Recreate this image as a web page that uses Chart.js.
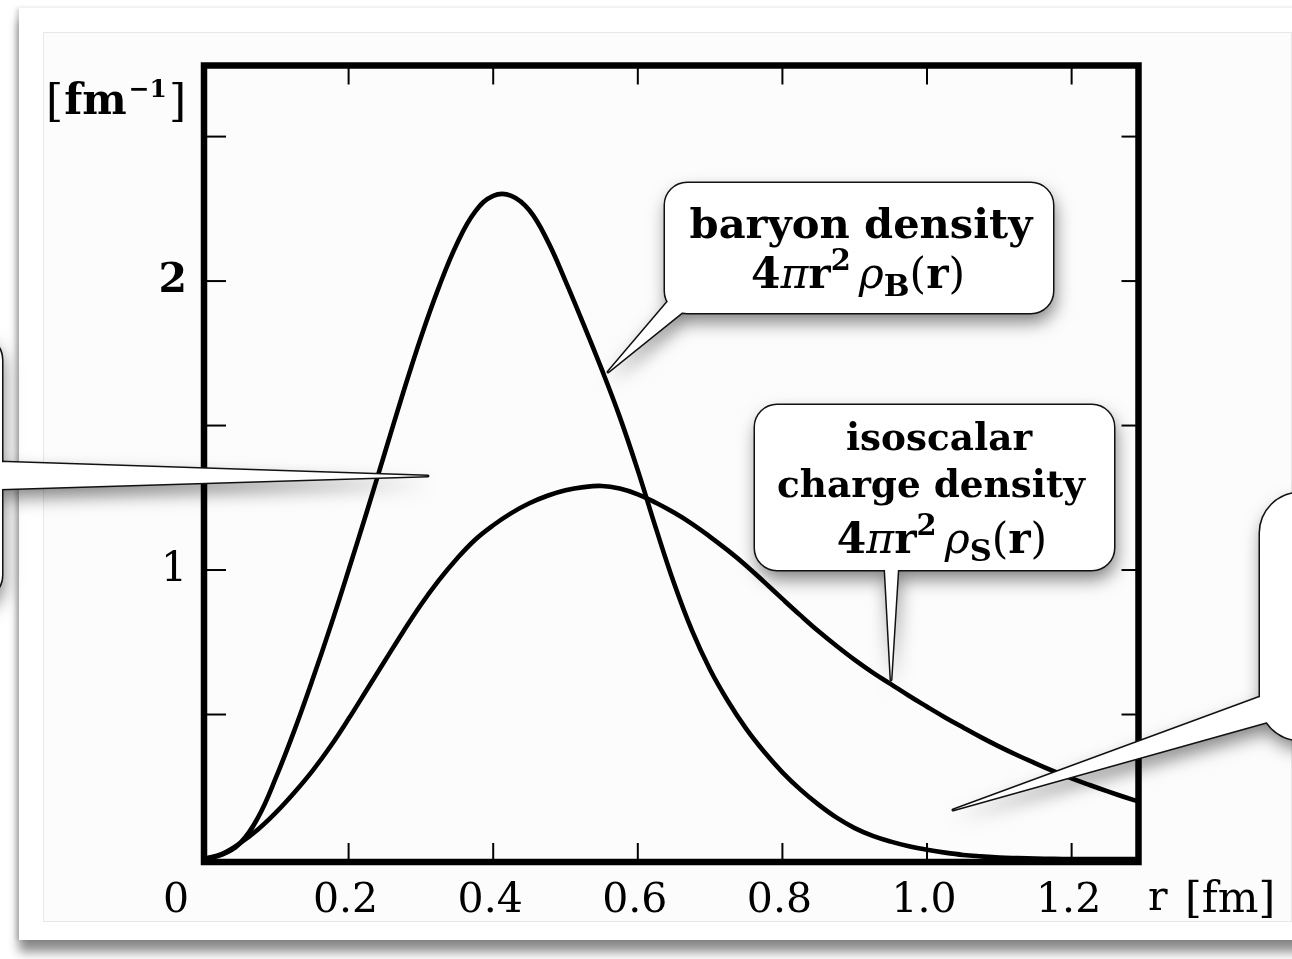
<!DOCTYPE html>
<html><head><meta charset="utf-8">
<script src="https://cdn.jsdelivr.net/npm/chart.js@4.4.0/dist/chart.umd.min.js"></script>
<style>
html,body{margin:0;padding:0;background:#fff;width:1292px;height:959px;overflow:hidden}
#card{position:absolute;left:19px;top:8px;width:1330px;height:932px;background:#fff;box-shadow:0 12px 10px rgba(0,0,0,0.45),-3px 0 4px rgba(0,0,0,0.15)}
#panel{position:absolute;left:43px;top:32px;width:1247px;height:888px;background:#fcfcfc;border:1px solid #e8e8e8}
canvas{position:absolute;left:0;top:0}
</style></head><body>
<div id="card"></div><div id="panel"></div>
<canvas id="c" width="1292" height="959"></canvas>
<script>
const rValues = [0,0.025,0.05,0.075,0.1,0.125,0.15,0.175,0.2,0.225,0.25,0.275,0.3,0.325,0.35,0.375,0.4,0.425,0.45,0.475,0.5,0.525,0.55,0.575,0.6,0.625,0.65,0.675,0.7,0.725,0.75,0.775,0.8,0.825,0.85,0.875,0.9,0.925,0.95,0.975,1.0,1.025,1.05,1.075,1.1,1.125,1.15,1.175,1.2,1.225,1.25,1.275,1.3];
const baryonDensity = [0,0.015,0.055,0.145,0.285,0.445,0.62,0.805,1.0,1.2,1.405,1.61,1.805,1.98,2.13,2.24,2.295,2.295,2.245,2.14,2.0,1.85,1.695,1.53,1.345,1.145,0.955,0.79,0.655,0.545,0.45,0.37,0.30,0.24,0.188,0.143,0.107,0.08,0.06,0.044,0.032,0.022,0.014,0.009,0.005,0.003,0.0015,0.0005,0,0,0,0,0];
const isoscalarDensity = [0,0.018,0.055,0.103,0.162,0.23,0.305,0.39,0.485,0.585,0.685,0.785,0.88,0.965,1.04,1.105,1.155,1.197,1.231,1.257,1.276,1.287,1.291,1.282,1.262,1.233,1.199,1.16,1.115,1.067,1.015,0.958,0.90,0.843,0.788,0.737,0.689,0.645,0.605,0.565,0.527,0.49,0.455,0.421,0.389,0.359,0.331,0.304,0.279,0.256,0.234,0.213,0.193];
const xTickValues = [0.2,0.4,0.6,0.8,1.0,1.2];
const xTickLabels = ['0.2','0.4','0.6','0.8','1.0','1.2'];
const yTickValues = [0.5,1,1.5,2,2.5];
const yLabelValues = [1,2];
const yTickLabels = ['1','2'];
const originLabel = '0';
const yUnitParts = ['[','fm','\u22121',']'];
const xUnitParts = ['r','[fm]'];
const baryonLabel = 'baryon density';
const isoLabel1 = 'isoscalar';
const isoLabel2 = 'charge density';

const FF = '"DejaVu Serif", serif';
function fnt(size, weight, style){ return (style||'normal')+' '+(weight||'normal')+' '+size+'px '+FF; }
function fitSize(ctx, text, weight, style, target){ ctx.font = fnt(100, weight, style); return 100*target/ctx.measureText(text).width; }

function formulaParts(F, sub){
  return [
    {t:'4', f:fnt(F,'bold'), dy:0},
    {t:'\u03c0', f:fnt(F,'normal','italic'), dy:0},
    {t:'r', f:fnt(F,'bold'), dy:0},
    {t:'2', f:fnt(F*0.68,'bold'), dy:-F*0.42},
    {t:' ', f:fnt(F*0.6,'normal'), dy:0},
    {t:'\u03c1', f:fnt(F,'normal','italic'), dy:0},
    {t:sub, f:fnt(F*0.72,'bold'), dy:F*0.2},
    {t:'(', f:fnt(F,'normal'), dy:0},
    {t:'r', f:fnt(F,'bold'), dy:0},
    {t:')', f:fnt(F,'normal'), dy:0}
  ];
}
function drawParts(ctx, parts, cx, base){
  let tot=0; parts.forEach(p=>{ctx.font=p.f; p.w=ctx.measureText(p.t).width; tot+=p.w;});
  let x = cx - tot/2;
  ctx.textAlign='left'; ctx.textBaseline='alphabetic';
  parts.forEach(p=>{ctx.font=p.f; ctx.fillText(p.t, x, base+p.dy); x+=p.w;});
}
function orient(tri){
  let s=0; for(let i=0;i<3;i++){const a=tri[i], b=tri[(i+1)%3]; s+=a[0]*b[1]-b[0]*a[1];}
  return s>=0 ? tri : [tri[2],tri[1],tri[0]];
}
function callout(ctx, rc, tail){
  const path = new Path2D();
  path.roundRect(rc.x, rc.y, rc.w, rc.h, rc.r);
  const t = orient(tail);
  path.moveTo(t[0][0],t[0][1]); path.lineTo(t[1][0],t[1][1]); path.lineTo(t[2][0],t[2][1]); path.closePath();
  ctx.save();
  ctx.shadowColor='rgba(0,0,0,0.5)'; ctx.shadowBlur=18; ctx.shadowOffsetY=9; ctx.shadowOffsetX=2;
  ctx.fillStyle='#fff'; ctx.fill(path,'nonzero');
  ctx.restore();
  ctx.save(); ctx.lineWidth=3; ctx.strokeStyle='#111'; ctx.lineJoin='round'; ctx.stroke(path); ctx.restore();
  ctx.save(); ctx.fillStyle='#fff'; ctx.fill(path,'nonzero'); ctx.restore();
}

const framePlugin = {
  id:'frame',
  afterDatasetsDraw(chart){
    const {ctx, chartArea:a, scales:{x,y}} = chart;
    ctx.save();
    ctx.strokeStyle='#000'; ctx.lineWidth=6.5;
    ctx.strokeRect(a.left, a.top, a.right-a.left, a.bottom-a.top);
    ctx.lineWidth=2;
    const ln=(x1,y1,x2,y2)=>{ctx.beginPath();ctx.moveTo(x1,y1);ctx.lineTo(x2,y2);ctx.stroke();};
    xTickValues.forEach(v=>{const px=x.getPixelForValue(v); ln(px,a.bottom,px,a.bottom-19); ln(px,a.top,px,a.top+19);});
    yTickValues.forEach(v=>{const py=y.getPixelForValue(v); ln(a.left,py,a.left+22,py); ln(a.right,py,a.right-17,py);});
    ctx.fillStyle='#000';
    ctx.font=fnt(41); ctx.textAlign='center'; ctx.textBaseline='alphabetic';
    xTickValues.forEach((v,i)=>{ctx.fillText(xTickLabels[i], x.getPixelForValue(v)-3, 912);});
    ctx.fillText(originLabel, 176, 912);
    ctx.textAlign='right';
    yLabelValues.forEach((v,i)=>{ctx.font=fnt(41, i==1?'bold':'normal'); ctx.fillText(yTickLabels[i], 187, y.getPixelForValue(v)+11);});
    ctx.textAlign='left';
    let xx=46;
    ctx.font=fnt(44); ctx.fillText(yUnitParts[0], xx, 116); xx+=ctx.measureText(yUnitParts[0]).width+1;
    ctx.font=fnt(42,'bold'); ctx.fillText(yUnitParts[1], xx, 114); xx+=ctx.measureText(yUnitParts[1]).width+2;
    ctx.font=fnt(25,'bold'); ctx.fillText(yUnitParts[2], xx, 97); xx+=ctx.measureText(yUnitParts[2]).width+2;
    ctx.font=fnt(44); ctx.fillText(yUnitParts[3], xx, 116);
    ctx.font=fnt(41); ctx.fillText(xUnitParts[0], 1148, 910);
    ctx.font=fnt(43); ctx.fillText(xUnitParts[1], 1185, 912);
    ctx.restore();
  },
  afterDraw(chart){
    const ctx = chart.ctx;
    callout(ctx, {x:-300,y:335,w:302,h:265,r:25}, [[-20,461.3],[428,476],[-20,489.6]]);
    callout(ctx, {x:1260,y:493,w:160,h:247,r:40}, [[1275,691.5],[953,810],[1285,717]]);
    callout(ctx, {x:665,y:183,w:388,h:130,r:22}, [[676,292],[608,372],[690,306]]);
    callout(ctx, {x:755,y:405,w:359,h:165,r:22}, [[884.5,560],[891,680],[898.5,560]]);
    ctx.save(); ctx.fillStyle='#000';
    const b = fitSize(ctx, baryonLabel, 'bold', 'normal', 343);
    ctx.font=fnt(b,'bold'); ctx.textAlign='center'; ctx.textBaseline='alphabetic';
    ctx.fillText(baryonLabel, 861, 238);
    const i1 = fitSize(ctx, isoLabel2, 'bold', 'normal', 308);
    ctx.font=fnt(i1,'bold');
    ctx.fillText(isoLabel1, 939, 450);
    ctx.fillText(isoLabel2, 931, 497);
    const F = b*1.02;
    drawParts(ctx, formulaParts(F,'B'), 858, 288);
    drawParts(ctx, formulaParts(F,'S'), 942, 553);
    ctx.restore();
  }
};

new Chart(document.getElementById('c'), {
  type:'line',
  data:{
    datasets:[
      {label:'baryon density 4\u03c0r\u00b2\u03c1B(r)', data:rValues.map((r,i)=>({x:r,y:baryonDensity[i]})), borderColor:'#000', borderWidth:4.6, pointRadius:0, tension:0.4, fill:false},
      {label:'isoscalar charge density 4\u03c0r\u00b2\u03c1S(r)', data:rValues.map((r,i)=>({x:r,y:isoscalarDensity[i]})), borderColor:'#000', borderWidth:4.6, pointRadius:0, tension:0.4, fill:false}
    ]
  },
  options:{
    responsive:false, animation:false, devicePixelRatio:1,
    layout:{padding:{left:204, top:65.5, right:153.5, bottom:97}},
    plugins:{legend:{display:false}, tooltip:{enabled:false}, title:{display:false}},
    scales:{
      x:{type:'linear', min:0, max:1.2925, display:false},
      y:{type:'linear', min:-0.0104, max:2.746, display:false}
    }
  },
  plugins:[framePlugin]
});
</script>
</body></html>
